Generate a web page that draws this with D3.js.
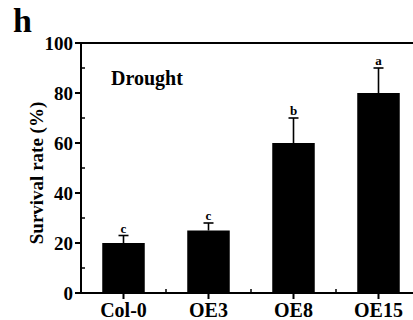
<!DOCTYPE html>
<html>
<head>
<meta charset="utf-8">
<script src="https://cdn.jsdelivr.net/npm/d3@7"></script>
<style>
  html, body { margin: 0; padding: 0; background: #fff; }
  svg { display: block; }
  text { font-family: 'Liberation Serif', 'Times New Roman', serif; font-weight: bold; fill: #000; }
</style>
</head>
<body>
<svg id="chart" width="413" height="320"></svg>
<script>
const categories = ['Col-0', 'OE3', 'OE8', 'OE15']
const survival = [20, 25, 60, 80]
const errors = [3, 3, 10, 10]
const letters = ['c', 'c', 'b', 'a']
const yTicks = [0, 20, 40, 60, 80, 100]
const yMinorTicks = [10, 30, 50, 70, 90]

const svg = d3.select('#chart')
const M = { left: 81, top: 43, bottom: 293, right: 421 }

const x = d3.scaleBand().domain(categories).range([M.left, M.right]).paddingInner(0.5).paddingOuter(0.25)
const y = d3.scaleLinear().domain([0, 100]).range([M.bottom, M.top])
const cx = d => x(d) + x.bandwidth() / 2

// frame: left, top, bottom (right side runs off the image)
svg.append('path')
  .attr('d', `M${M.right},${M.top}H${M.left}V${M.bottom}H${M.right}`)
  .attr('fill', 'none').attr('stroke', '#000').attr('stroke-width', 2)

// y ticks: major outward, minor inward
svg.append('g').selectAll('line').data(yTicks).join('line')
  .attr('x1', M.left - 6).attr('x2', M.left)
  .attr('y1', d => y(d)).attr('y2', d => y(d))
  .attr('stroke', '#000').attr('stroke-width', 2)
svg.append('g').selectAll('line').data(yMinorTicks).join('line')
  .attr('x1', M.left).attr('x2', M.left + 4)
  .attr('y1', d => y(d)).attr('y2', d => y(d))
  .attr('stroke', '#000').attr('stroke-width', 1.5)
svg.append('g').selectAll('text').data(yTicks).join('text')
  .attr('x', M.left - 8).attr('y', d => y(d)).attr('dy', '0.35em')
  .attr('text-anchor', 'end').attr('font-size', 19).text(d => d)

// x ticks: major at bar centres (outward), minor between bars (inward)
svg.append('g').selectAll('line').data(categories).join('line')
  .attr('x1', cx).attr('x2', cx)
  .attr('y1', M.bottom).attr('y2', M.bottom + 6)
  .attr('stroke', '#000').attr('stroke-width', 2)
svg.append('g').selectAll('line').data(categories.slice(1)).join('line')
  .attr('x1', d => x(d) - x.step() * x.paddingInner() / 2)
  .attr('x2', d => x(d) - x.step() * x.paddingInner() / 2)
  .attr('y1', M.bottom).attr('y2', M.bottom - 4)
  .attr('stroke', '#000').attr('stroke-width', 1.5)
svg.append('g').selectAll('text').data(categories).join('text')
  .attr('x', cx).attr('y', 317)
  .attr('text-anchor', 'middle').attr('font-size', 20).text(d => d)

// bars
const bars = categories.map((c, i) => ({ c, v: survival[i], e: errors[i], l: letters[i] }))
svg.append('g').selectAll('rect').data(bars).join('rect')
  .attr('x', d => x(d.c)).attr('width', x.bandwidth())
  .attr('y', d => y(d.v)).attr('height', d => y(0) - y(d.v))
  .attr('fill', '#000')

// error bars (upper only)
const eg = svg.append('g').attr('stroke', '#000').attr('stroke-width', 1.6)
eg.selectAll('line.v').data(bars).join('line').attr('class', 'v')
  .attr('x1', d => cx(d.c)).attr('x2', d => cx(d.c))
  .attr('y1', d => y(d.v)).attr('y2', d => y(d.v + d.e))
eg.selectAll('line.cap').data(bars).join('line').attr('class', 'cap')
  .attr('x1', d => cx(d.c) - 5).attr('x2', d => cx(d.c) + 5)
  .attr('y1', d => y(d.v + d.e)).attr('y2', d => y(d.v + d.e))

svg.append('g').selectAll('text').data(bars).join('text')
  .attr('x', d => cx(d.c)).attr('y', d => y(d.v + d.e) - 3)
  .attr('text-anchor', 'middle').attr('font-size', 13).text(d => d.l)

// labels
svg.append('text').attr('x', 111).attr('y', 85).attr('font-size', 20).text('Drought')
svg.append('text').attr('x', 13).attr('y', 32).attr('font-size', 34).text('h')
svg.append('text')
  .attr('transform', `translate(43,${(M.top + M.bottom) / 2 + 5}) rotate(-90)`)
  .attr('text-anchor', 'middle').attr('font-size', 19).text('Survival rate (%)')
</script>
</body>
</html>
